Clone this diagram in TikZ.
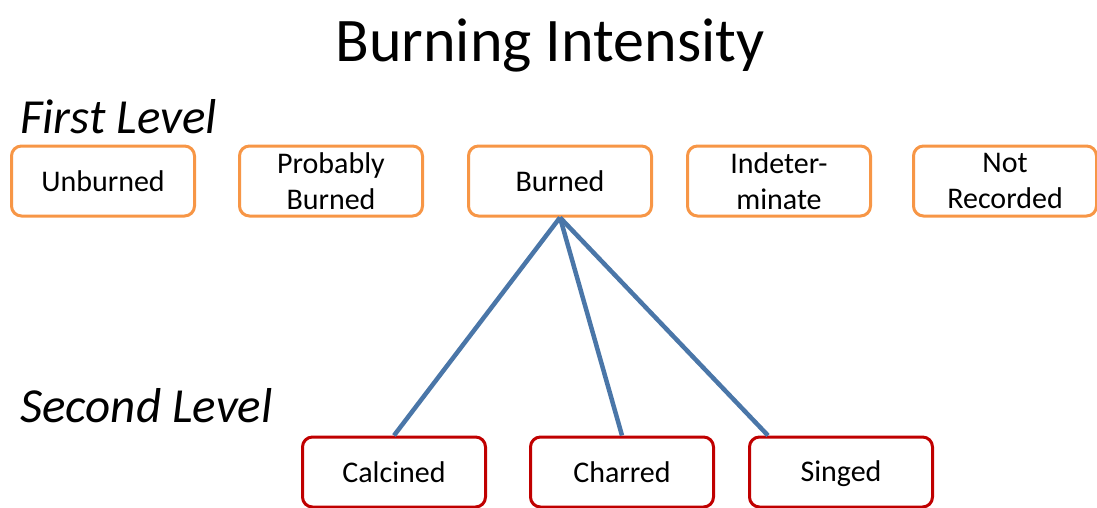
\documentclass[tikz,border=0pt]{standalone}
\usepackage{fontspec}
\setmainfont{Carlito}
\definecolor{boxorange}{HTML}{F79646}
\definecolor{boxred}{HTML}{C00000}
\definecolor{linkblue}{HTML}{4A76A8}
\begin{document}
\begin{tikzpicture}[x=1pt,y=-1pt,
  box/.style={draw, line width=3pt, rounded corners=10pt, fill=white,
    minimum width=183pt, minimum height=70pt, inner sep=0pt, align=center,
    font=\fontsize{30}{36}\selectfont},
  first/.style={box, draw=boxorange},
  second/.style={box, draw=boxred},
  link/.style={draw=linkblue, line width=4.5pt},
  levellabel/.style={anchor=base west, inner sep=0pt, font=\fontsize{49}{58}\selectfont\itshape}
]
\useasboundingbox (0,0) rectangle (1097,508);
\node[anchor=base, inner sep=0pt, font=\fontsize{62}{74}\selectfont] (title) at (550,62) {Burning Intensity};
\node[levellabel] (lvl1) at (20,133) {First Level};
\node[levellabel] (lvl2) at (20,422) {Second Level};

\node[first] (unburned) at (103,181) {Unburned};
\node[first] (probably) at (331,181) {Probably\\Burned};
\node[first] (burned) at (560,181) {Burned};
\node[first] (indet) at (779,181) {Indeter-\\minate};
\node[first] (notrec) at (1005,181) {Not\\Recorded};

\node[second] (calcined) at (394,472) {Calcined};
\node[second] (charred) at (622,472) {Charred};
\node[second] (singed) at (841,472) {\smash{Singed}\vphantom{B}};

\draw[link] (burned.south) -- (calcined.north);
\draw[link] (burned.south) -- (charred.north);
\draw[link] (burned.south) -- ([xshift=-73pt]singed.north);
\end{tikzpicture}
\end{document}
